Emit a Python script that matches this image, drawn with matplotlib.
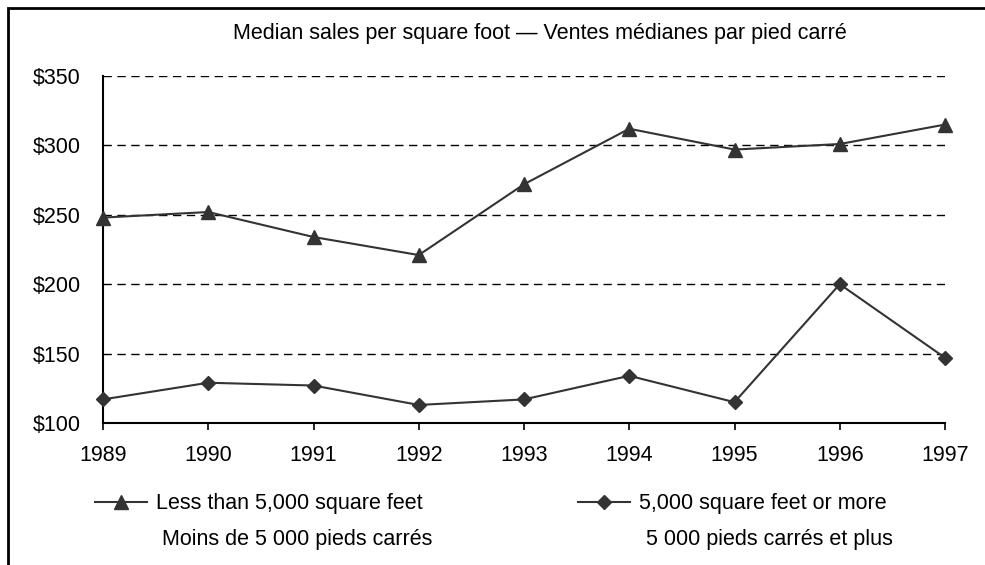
import matplotlib
matplotlib.use("Agg")
import matplotlib.pyplot as plt
from matplotlib.lines import Line2D
from matplotlib.patches import Rectangle

plt.rcParams["font.family"] = ["Liberation Sans", "DejaVu Sans"]

years = [1989, 1990, 1991, 1992, 1993, 1994, 1995, 1996, 1997]
small_stores = [248, 252, 234, 221, 272, 312, 297, 301, 315]   # < 5,000 sq ft
large_stores = [117, 129, 127, 113, 117, 134, 115, 200, 147]   # >= 5,000 sq ft
yticks = [100, 150, 200, 250, 300, 350]

INK = "#333333"
FS = 15.5

fig = plt.figure(figsize=(9.85, 5.65), dpi=100)
ax = fig.add_axes([103 / 985, 142 / 565, 842 / 985, 347 / 565])

ax.plot(years, small_stores, color=INK, lw=1.5, marker="^", markersize=10.5,
        clip_on=False, zorder=3)
ax.plot(years, large_stores, color=INK, lw=1.5, marker="D", markersize=7.5,
        clip_on=False, zorder=3)

for y in yticks[1:]:
    ax.axhline(y, color="black", lw=1, ls=(0, (6, 4)), zorder=1)

ax.set_xlim(years[0], years[-1])
ax.set_ylim(yticks[0], yticks[-1])
ax.set_xticks(years)
ax.set_xticklabels([str(y) for y in years], fontsize=FS)
ax.set_yticks(yticks)
ax.set_yticklabels([f"${v}" for v in yticks], fontsize=FS)
ax.tick_params(axis="x", direction="out", length=5, width=1.2, pad=11, colors="black")
ax.tick_params(axis="y", length=0, pad=16)
ax.spines[["top", "right"]].set_visible(False)
ax.spines["left"].set_linewidth(1.5)
ax.spines["bottom"].set_linewidth(1.5)

fig.text(540 / 985, 1 - 33 / 565,
         "Median sales per square foot \u2014 Ventes médianes par pied carré",
         ha="center", va="center", fontsize=FS)

# legend: two single-entry legends so each column sits where the original has it
h1 = Line2D([], [], color=INK, lw=1.5, marker="^", markersize=10)
h2 = Line2D([], [], color=INK, lw=1.5, marker="D", markersize=7)
for handle, label, x0 in [(h1, "Less than 5,000 square feet", 95),
                          (h2, "5,000 square feet or more", 578)]:
    fig.legend([handle], [label], loc="center left",
               bbox_to_anchor=(x0 / 985, 1 - 504 / 565),
               frameon=False, fontsize=FS, handlelength=2.4,
               handletextpad=0.45, borderpad=0, borderaxespad=0)

fig.text(162 / 985, 1 - 539 / 565, "Moins de 5 000 pieds carrés",
         ha="left", va="center", fontsize=FS)
fig.text(646 / 985, 1 - 539 / 565, "5 000 pieds carrés et plus",
         ha="left", va="center", fontsize=FS)

# outer frame (runs off the right and bottom edges)
fig.patches.append(Rectangle((8 / 985, -0.1), 2, 1 - 8 / 565 + 0.1,
                             transform=fig.transFigure, fill=False,
                             edgecolor="black", lw=2))

fig.savefig("out.png", dpi=100, facecolor="white")
